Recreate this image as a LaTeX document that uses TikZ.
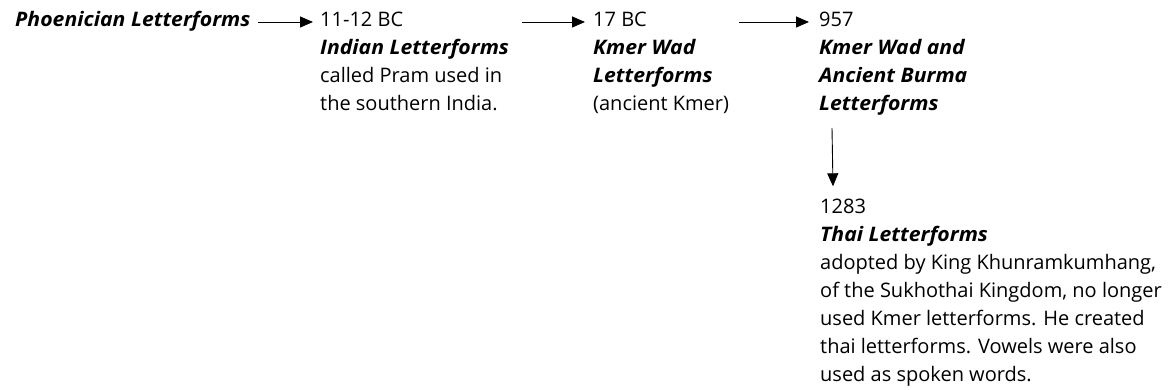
\documentclass[tikz,border=0pt]{standalone}
\usepackage{fontspec}
\setmainfont{Open Sans}[BoldItalicFeatures={FakeStretch=1.06}]
\usetikzlibrary{arrows.meta,calc}
\newcommand\bitext[1]{\textbf{\textit{#1}}}
\begin{document}
\begin{tikzpicture}[x=1pt,y=-1pt,
  txt/.style={anchor=base west,inner sep=0pt,align=left,font=\fontsize{20}{28}\selectfont},
  arr/.style={-{Triangle[length=13pt,width=11pt]},line width=0.9pt}]
\useasboundingbox (0,0) rectangle (1170,390);
\node[txt] (phoen) at (15,27) {\bitext{Phoenician Letterforms}};
\node[txt] (blockA) at (320,111) {11-12 BC\\\bitext{Indian Letterforms}\\called Pram used in\\the southern India.};
\node[txt] (blockB) at (593,111) {17 BC\\\bitext{Kmer Wad}\\\bitext{Letterforms}\\(ancient Kmer)};
\node[txt] (blockC) at (819,111) {957\\\bitext{Kmer Wad and}\\\bitext{Ancient Burma}\\\bitext{Letterforms}};
\node[txt] (blockD) at (820,381) {1283\\\bitext{Thai Letterforms}\\adopted by King Khunramkumhang,\\of the Sukhothai Kingdom, no longer\\used Kmer letterforms. He created\\thai letterforms. Vowels were also\\used as spoken words.};
\draw[arr] ($(phoen.base east)+(7,-5)$) -- ($(blockA.west |- phoen.base)+(-7,-5)$);
\draw[arr] ($(blockA.east |- phoen.base)+(13,-5)$) -- ($(blockB.west |- phoen.base)+(-8,-5)$);
\draw[arr] ($(blockB.east |- phoen.base)+(10,-5)$) -- ($(blockC.west |- phoen.base)+(-10,-5)$);
\draw[arr] ($(blockC.south west)+(13,12)$) -- ($(blockD.north west)+(13,-12)$);
\end{tikzpicture}
\end{document}
